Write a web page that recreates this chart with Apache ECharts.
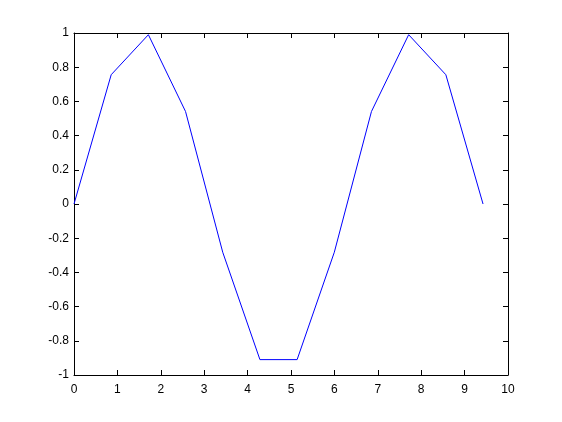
<!DOCTYPE html>
<html><head><meta charset="utf-8">
<script src="https://cdn.jsdelivr.net/npm/echarts@6/dist/echarts.min.js"></script>
<style>html,body{margin:0;padding:0;background:#fff}#c{width:562px;height:422px}</style>
</head><body><div id="c"></div>
<script>
var xValues = [0, 0.857, 1.714, 2.570, 3.427, 4.284, 5.141, 5.998, 6.854, 7.711, 8.568, 9.425];
var yValues = [0, 0.756, 0.990, 0.541, -0.282, -0.910, -0.910, -0.282, 0.541, 0.990, 0.756, 0];
var lineColor = '#0000ff';

var chart = echarts.init(document.getElementById('c'), null, {renderer: 'canvas'});
var font = {fontFamily: 'Liberation Sans, Arial, sans-serif', fontSize: 12, color: '#000'};
function fmt(v){ return (Math.round(v*10)/10).toString(); }
var axisCommon = {
  axisLine: {show: true, onZero: false, lineStyle: {color: '#000', width: 1}},
  axisTick: {show: true, inside: true, length: 5, lineStyle: {color: '#000'}},
  splitLine: {show: false}
};
chart.setOption({
  animation: false,
  backgroundColor: '#fff',
  grid: {left: 74, top: 33, right: 54, bottom: 47, containLabel: false},
  xAxis: [
    Object.assign({type: 'value', min: 0, max: 10, interval: 1, position: 'bottom',
      axisLabel: Object.assign({margin: 9, formatter: fmt}, font)}, axisCommon),
    Object.assign({type: 'value', min: 0, max: 10, interval: 1, position: 'top',
      axisLabel: {show: false}}, axisCommon)
  ],
  yAxis: [
    Object.assign({type: 'value', min: -1, max: 1, interval: 0.2, position: 'left',
      axisLabel: Object.assign({margin: 5, formatter: fmt}, font)}, axisCommon),
    Object.assign({type: 'value', min: -1, max: 1, interval: 0.2, position: 'right',
      axisLabel: {show: false}}, axisCommon)
  ],
  series: [{
    type: 'line',
    data: xValues.map(function(x, i){ return [x, yValues[i]]; }),
    showSymbol: false,
    symbol: 'none',
    lineStyle: {color: lineColor, width: 1},
    itemStyle: {color: lineColor}
  }]
});
</script></body></html>
